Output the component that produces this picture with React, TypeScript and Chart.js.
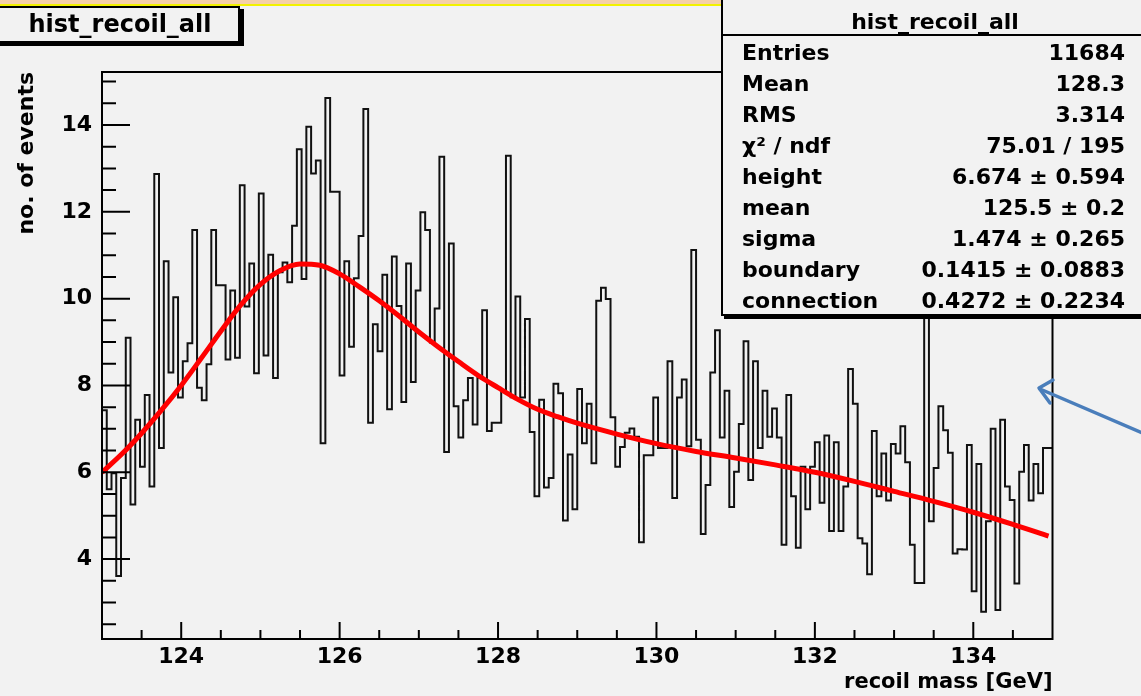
import React, { useEffect, useRef } from "react";
import { Chart, registerables } from "chart.js";

Chart.register(...registerables);

// ---------------- data ----------------
const binLow = 123.0;
const binWidth = 0.06;
const binCounts: number[] = [
  12.29, 7.43, 5.61, 5.98, 3.61, 5.87, 9.1, 5.26, 7.21, 6.13,
  7.78, 5.67, 12.87, 6.56, 10.86, 8.3, 10.03, 7.72, 8.56, 8.97,
  11.58, 7.95, 7.66, 8.49, 11.58, 10.31, 10.31, 8.6, 10.19, 8.64,
  12.61, 9.82, 10.81, 8.28, 12.42, 8.69, 11.01, 8.17, 10.61, 10.83,
  10.38, 11.68, 13.44, 10.45, 13.96, 12.88, 13.18, 6.67, 14.62, 12.46,
  12.46, 8.23, 10.86, 8.89, 10.47, 11.44, 14.37, 7.14, 9.41, 8.79,
  10.55, 7.45, 10.97, 9.83, 7.62, 10.81, 8.08, 10.19, 11.99, 11.58,
  8.99, 9.77, 13.27, 6.47, 11.27, 7.52, 6.8, 7.66, 8.17, 7.1,
  8.18, 9.73, 6.95, 7.14, 7.14, 7.88, 13.29, 7.73, 10.05, 7.72,
  9.53, 6.93, 5.45, 7.67, 5.65, 5.87, 8.04, 7.82, 4.89, 6.41,
  5.15, 7.92, 6.67, 7.58, 6.21, 9.95, 10.25, 9.99, 7.27, 6.13,
  6.58, 6.91, 7.01, 6.82, 4.39, 6.39, 6.39, 7.72, 6.56, 6.56,
  8.56, 5.41, 7.72, 8.14, 6.6, 11.12, 6.75, 4.58, 5.71, 8.3,
  9.27, 6.8, 7.88, 5.2, 6.01, 7.11, 9.02, 5.82, 8.56, 6.56,
  7.88, 6.82, 7.47, 6.8, 4.33, 7.78, 5.45, 4.26, 6.13, 5.15,
  6.13, 6.69, 5.3, 6.85, 4.65, 6.69, 4.65, 5.67, 8.38, 7.58,
  4.48, 4.36, 3.65, 6.95, 5.45, 6.43, 5.35, 6.65, 6.43, 7.06,
  6.23, 4.33, 3.45, 3.45, 11.0, 4.87, 6.1, 7.52, 6.97, 6.45,
  4.13, 4.23, 4.22, 6.63, 3.26, 6.19, 2.79, 4.87, 7.0, 2.83,
  7.21, 5.67, 5.36, 3.44, 6.01, 6.63, 5.35, 6.19, 5.52, 6.56,
];

const fitMass: number[] = [
  123.0, 123.25, 123.5, 123.75, 124.0, 124.25, 124.5, 124.75, 125.0, 125.25,
  125.5, 125.75, 126.0, 126.25, 126.5, 126.75, 127.0, 127.25, 127.5, 127.75,
  128.0, 128.25, 128.5, 128.75, 129.0, 129.5, 130.0, 130.5, 131.0, 131.5,
  132.0, 132.5, 133.0, 133.5, 134.0, 134.5, 134.95,
];
const fitValue: number[] = [
  6.0, 6.42, 6.9, 7.43, 8.0, 8.62, 9.25, 9.85, 10.33, 10.65,
  10.8, 10.77, 10.57, 10.27, 9.95, 9.6, 9.23, 8.88, 8.55, 8.23,
  7.95, 7.68, 7.45, 7.28, 7.13, 6.88, 6.66, 6.48, 6.33, 6.17,
  6.0, 5.79, 5.56, 5.33, 5.08, 4.8, 4.53,
];

const xTickValues: number[] = [124, 126, 128, 130, 132, 134];
const yTickValues: number[] = [4, 6, 8, 10, 12, 14];
const xMin = 123;
const xMax = 135;
const yMin = 2.16;
const yMax = 15.22;
const minorStep = 0.5;

const histTitle = "hist_recoil_all";
const xTitle = "recoil mass [GeV]";
const yTitle = "no. of events";
const statLabels: string[] = [
  "Entries", "Mean", "RMS", "χ² / ndf", "height", "mean", "sigma", "boundary", "connection",
];
const statValues: string[] = [
  "11684", "128.3", "3.314", "75.01 / 195", "6.674 ± 0.594", "125.5 ± 0.2",
  "1.474 ± 0.265", "0.1415 ± 0.0883", "0.4272 ± 0.2234",
];

// ---------------- styling ----------------
const FONT = "'DejaVu Sans', 'Liberation Sans', Arial, sans-serif";
const BG = "#f2f2f2";

const rootFrame = {
  id: "rootFrame",
  afterDraw(chart: any) {
    const { ctx, chartArea: a, scales } = chart;
    const xs = scales.x;
    const ys = scales.y;
    ctx.save();
    ctx.strokeStyle = "#000";
    ctx.lineWidth = 2;
    ctx.beginPath();
    const nx = Math.round((xMax - xMin) / minorStep);
    for (let i = 1; i < nx; i++) {
      const v = xMin + i * minorStep;
      const px = xs.getPixelForValue(v);
      const major = xTickValues.some((t) => Math.abs(t - v) < 1e-6);
      const len = major ? 17 : 9;
      ctx.moveTo(px, a.bottom);
      ctx.lineTo(px, a.bottom - len);
    }
    const yStart = Math.ceil(yMin / minorStep) * minorStep;
    for (let v = yStart; v <= yMax + 1e-9; v += minorStep) {
      const py = ys.getPixelForValue(v);
      const major = yTickValues.some((t) => Math.abs(t - v) < 1e-6);
      const len = major ? 28 : 14;
      ctx.moveTo(a.left, py);
      ctx.lineTo(a.left + len, py);
    }
    ctx.stroke();
    ctx.strokeRect(a.left, a.top, a.right - a.left, a.bottom - a.top);
    ctx.restore();
  },
};

export default function App() {
  const ref = useRef<HTMLCanvasElement>(null);

  useEffect(() => {
    const canvas = ref.current;
    if (!canvas) return;
    const histPoints = binCounts.map((c, i) => ({ x: binLow + i * binWidth, y: c }));
    histPoints.push({
      x: binLow + binCounts.length * binWidth,
      y: binCounts[binCounts.length - 1],
    });
    const fitPoints = fitMass.map((m, i) => ({ x: m, y: fitValue[i] }));
    const f = (size: number) => ({ family: FONT, weight: "bold" as const, size, lineHeight: 1 });

    const chart = new Chart(canvas, {
      type: "line",
      data: {
        datasets: [
          {
            label: "fit",
            data: fitPoints,
            borderColor: "#ff0000",
            borderWidth: 5,
            pointRadius: 0,
            fill: false,
            cubicInterpolationMode: "monotone",
            order: 0,
          },
          {
            label: histTitle,
            data: histPoints,
            stepped: "after",
            borderColor: "#111111",
            borderWidth: 2,
            pointRadius: 0,
            fill: false,
            order: 1,
          },
        ],
      },
      options: {
        animation: false,
        responsive: false,
        maintainAspectRatio: false,
        events: [],
        layout: { padding: { left: 0, top: 72, right: 88.5, bottom: 0 } },
        plugins: { legend: { display: false }, tooltip: { enabled: false } },
        scales: {
          x: {
            type: "linear",
            min: xMin,
            max: xMax,
            afterFit(s: any) {
              s.height = 57;
            },
            afterBuildTicks(s: any) {
              s.ticks = xTickValues.map((v) => ({ value: v }));
            },
            grid: { display: false, drawTicks: false },
            border: { display: false },
            ticks: {
              font: f(22),
              color: "#000",
              padding: 7,
              autoSkip: false,
              maxRotation: 0,
              callback: (v: any) => String(v),
            },
            title: {
              display: true,
              text: xTitle,
              align: "end",
              color: "#000",
              font: f(21),
              padding: { top: 0, bottom: 3 },
            },
          },
          y: {
            type: "linear",
            min: yMin,
            max: yMax,
            afterFit(s: any) {
              s.width = 102;
            },
            afterBuildTicks(s: any) {
              s.ticks = yTickValues.map((v) => ({ value: v }));
            },
            grid: { display: false, drawTicks: false },
            border: { display: false },
            ticks: {
              font: f(22),
              color: "#000",
              padding: 10,
              autoSkip: false,
              callback: (v: any) => String(v),
            },
            title: {
              display: true,
              text: yTitle,
              align: "end",
              color: "#000",
              font: f(22),
              padding: { top: 16, bottom: 0 },
            },
          },
        },
      } as any,
      plugins: [rootFrame],
    });
    return () => chart.destroy();
  }, []);

  return (
    <div
      style={{
        position: "fixed",
        left: 0,
        top: 0,
        width: 1141,
        height: 696,
        background: BG,
        overflow: "hidden",
        fontFamily: FONT,
        fontWeight: "bold",
        color: "#000",
      }}
    >
      <canvas
        ref={ref}
        width={1141}
        height={696}
        style={{ position: "absolute", left: 0, top: 0, width: 1141, height: 696 }}
      />
      {/* top strip */}
      <div style={{ position: "absolute", left: 0, top: 0, width: 722, height: 4, background: "#f5d0a8" }} />
      <div style={{ position: "absolute", left: 722, top: 0, width: 419, height: 4, background: "#aeae3c" }} />
      <div style={{ position: "absolute", left: 0, top: 4, width: 1141, height: 2, background: "#f2f200" }} />

      {/* title box */}
      <div
        style={{
          position: "absolute",
          left: -10,
          top: 6,
          width: 246,
          height: 33,
          border: "2px solid #000",
          background: BG,
          boxShadow: "4px 3px 0 #000",
          display: "flex",
          alignItems: "center",
          justifyContent: "center",
          fontSize: 24,
          lineHeight: "33px",
        }}
      >
        <span style={{ marginLeft: 10 }}>{histTitle}</span>
      </div>

      {/* stat box */}
      <div
        style={{
          position: "absolute",
          left: 721,
          top: -10,
          width: 460,
          height: 322,
          border: "2px solid #000",
          background: BG,
          boxShadow: "3px 3px 0 #000",
        }}
      />
      <div style={{ position: "absolute", left: 721, top: 34, width: 420, height: 2, background: "#000" }} />
      <div
        style={{
          position: "absolute",
          left: 835,
          top: 8,
          width: 200,
          height: 28,
          textAlign: "center",
          fontSize: 22,
          lineHeight: "28px",
        }}
      >
        {histTitle}
      </div>
      {statLabels.map((lab, i) => (
        <React.Fragment key={lab + i}>
          <div
            style={{
              position: "absolute",
              left: 742,
              top: 53 + i * 31 - 14,
              height: 28,
              lineHeight: "28px",
              fontSize: 22,
              whiteSpace: "nowrap",
            }}
          >
            {lab}
          </div>
          <div
            style={{
              position: "absolute",
              right: 1141 - 1125,
              top: 53 + i * 31 - 14,
              height: 28,
              lineHeight: "28px",
              fontSize: 22,
              whiteSpace: "nowrap",
              textAlign: "right",
            }}
          >
            {statValues[i]}
          </div>
        </React.Fragment>
      ))}

      {/* annotation arrow */}
      <svg
        width={1141}
        height={696}
        style={{ position: "absolute", left: 0, top: 0, pointerEvents: "none" }}
      >
        <g stroke="#4a7ebb" strokeWidth={3.5} fill="none" strokeLinecap="round" strokeLinejoin="round">
          <line x1={1145} y1={434} x2={1040} y2={389} />
          <polyline points="1053,380 1039,388 1050,403" />
        </g>
      </svg>
    </div>
  );
}
